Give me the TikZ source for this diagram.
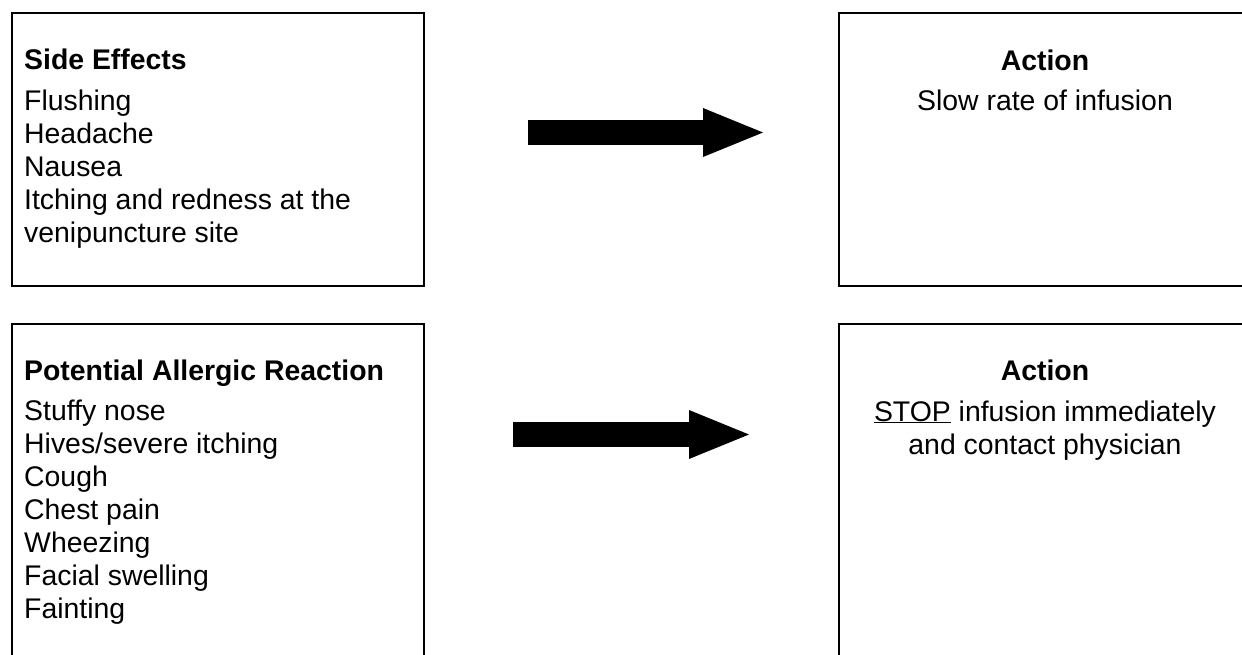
\documentclass[tikz,border=0pt]{standalone}
\usepackage{fontspec}
\setmainfont{Liberation Sans}
\usetikzlibrary{arrows.meta}

\tikzset{
    box/.style={draw, line width=2pt, anchor=north west, inner sep=0pt},
    listtext/.style={anchor=base west, align=left, inner sep=0pt, font={\fontsize{28.4}{33}\selectfont}},
    actiontext/.style={anchor=base, align=center, inner sep=0pt, font={\fontsize{28.4}{33}\selectfont}},
    fatarrow/.style={line width=25pt, -{Triangle[length=60pt, width=49pt, line width=0pt]}},
}

\begin{document}
\begin{tikzpicture}[x=1pt, y=-1pt]
    \useasboundingbox (0,0) rectangle (1242,654);
    \clip (0,0) rectangle (1242,654);

    % side effects (base = last line)
    \node [box, minimum width=412.5pt, minimum height=272.5pt] (sidebox) at (10.5,12) {};
    \node [listtext] (sidelist) at (24,242.5)
        {\textbf{Side Effects}\\[8pt] Flushing\\ Headache\\ Nausea\\ Itching and redness at the\\ venipuncture site};

    % action for side effects
    \node [box, minimum width=415pt, minimum height=272.5pt] (slowbox) at (838.3,12) {};
    \node [actiontext] (slowtext) at (1045,110)
        {\textbf{Action}\\[7pt] Slow rate of infusion};

    \coordinate (sidetail) at (528,132.5);
    \coordinate (sidetip) at (763,132.5);
    \draw [fatarrow] (sidetail) -- (sidetip);

    % allergic reaction
    \node [box, minimum width=412.5pt, minimum height=350pt] (allergybox) at (10.5,323) {};
    \node [listtext] (allergylist) at (24,618)
        {\textbf{Potential Allergic Reaction}\\[7pt] Stuffy nose\\ Hives/severe itching\\ Cough\\ Chest pain\\ Wheezing\\ Facial swelling\\ Fainting};

    % action for allergic reaction
    \node [box, minimum width=415pt, minimum height=350pt] (stopbox) at (838.3,323) {};
    \node [actiontext] (stoptext) at (1045,454)
        {\textbf{Action}\\[8pt] \underline{STOP} infusion immediately\\ and contact physician};

    \coordinate (allergytail) at (513,434.5);
    \coordinate (allergytip) at (749,434.5);
    \draw [fatarrow] (allergytail) -- (allergytip);

\end{tikzpicture}
\end{document}
